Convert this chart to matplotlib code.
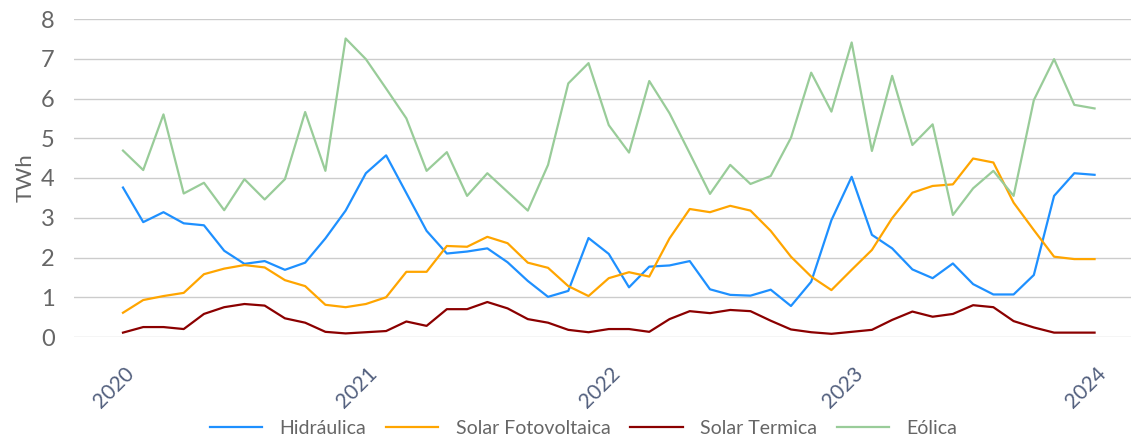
"""Monthly generation by renewable source, 2020-2024 (TWh)."""

import matplotlib
matplotlib.use('Agg')
import matplotlib.pyplot as plt
import matplotlib.transforms as mtransforms
import numpy as np

# monthly values, Jan 2020 .. Jan 2024
hidraulica = [3.76, 2.89, 3.14, 2.86, 2.81, 2.17, 1.84, 1.91, 1.69, 1.87,
              2.48, 3.18, 4.12, 4.57, 3.62, 2.67, 2.10, 2.15, 2.23, 1.88,
              1.41, 1.01, 1.16, 2.49, 2.09, 1.25, 1.77, 1.80, 1.91, 1.20,
              1.06, 1.04, 1.19, 0.78, 1.39, 2.94, 4.03, 2.57, 2.23, 1.70,
              1.48, 1.85, 1.33, 1.07, 1.07, 1.56, 3.55, 4.12, 4.08]
solar_fv = [0.61, 0.93, 1.03, 1.11, 1.58, 1.72, 1.81, 1.75, 1.43, 1.28,
            0.81, 0.75, 0.83, 1.00, 1.64, 1.64, 2.29, 2.27, 2.52, 2.36,
            1.87, 1.74, 1.28, 1.03, 1.48, 1.63, 1.52, 2.48, 3.22, 3.14,
            3.30, 3.18, 2.67, 2.02, 1.52, 1.18, 1.69, 2.19, 2.99, 3.63,
            3.80, 3.84, 4.49, 4.39, 3.38, 2.69, 2.02, 1.96, 1.96]
solar_termica = [0.11, 0.25, 0.25, 0.20, 0.58, 0.75, 0.83, 0.79, 0.47, 0.36,
                 0.13, 0.09, 0.12, 0.15, 0.39, 0.28, 0.70, 0.70, 0.88, 0.72,
                 0.45, 0.36, 0.18, 0.12, 0.20, 0.20, 0.13, 0.45, 0.65, 0.60,
                 0.68, 0.65, 0.41, 0.19, 0.12, 0.08, 0.13, 0.18, 0.43, 0.64,
                 0.51, 0.58, 0.80, 0.75, 0.40, 0.24, 0.11, 0.11, 0.11]
eolica = [4.69, 4.20, 5.60, 3.61, 3.88, 3.19, 3.97, 3.46, 3.97, 5.66,
          4.18, 7.51, 6.99, 6.25, 5.50, 4.18, 4.65, 3.55, 4.12, 3.65,
          3.18, 4.33, 6.38, 6.89, 5.33, 4.64, 6.44, 5.63, 4.62, 3.60,
          4.33, 3.85, 4.05, 5.01, 6.65, 5.67, 7.41, 4.68, 6.57, 4.83,
          5.35, 3.07, 3.74, 4.18, 3.55, 5.96, 6.99, 5.84, 5.75]

series_names = ['Hidráulica', 'Solar Fotovoltaica', 'Solar Termica', 'Eólica']
year_labels = ['2020', '2021', '2022', '2023', '2024']

colors = ['#1e90ff', '#ffa500', '#8b0000', '#99cc99']

plt.rcParams['font.family'] = ['Lato', 'DejaVu Sans']

months = np.arange(len(hidraulica))

fig = plt.figure(figsize=(11.31, 4.41), dpi=100)
ax = fig.add_axes([74 / 1131, 1 - 337 / 441, 1 - 74 / 1131, (337 - 19) / 441])

for vals, name, c in zip([hidraulica, solar_fv, solar_termica, eolica], series_names, colors):
    ax.plot(months, vals, color=c, lw=1.6, label=name, clip_on=False)

ax.set_ylim(0, 8)
ax.set_xlim(-2.42, 49.8)
ax.set_yticks(range(0, 9))
ax.grid(axis='y', color='#cccccc', lw=1.0)
ax.set_axisbelow(True)
for s in ax.spines.values():
    s.set_visible(False)

ax.set_xticks(months[::12])
ax.set_xticklabels(year_labels, rotation=45, ha='center', fontsize=15,
                   color='#53607e')
ax.tick_params(axis='x', length=0, pad=19)
# nudge year labels a little to the left, like the original
shift = mtransforms.ScaledTranslation(-9 / 100, 0, fig.dpi_scale_trans)
for t in ax.get_xticklabels():
    t.set_transform(t.get_transform() + shift)
ax.tick_params(axis='y', length=0, pad=14, labelsize=17, labelcolor='#666666')

ax.set_ylabel('TWh', fontsize=16, color='#666666', labelpad=4)

fig.legend(loc='lower center', bbox_to_anchor=(0.516, -0.03), ncol=4,
           frameon=False, labelcolor='#666666', handlelength=2.7,
           handletextpad=0.9, columnspacing=1.0, prop={'size': 14})

fig.savefig('out.png', dpi=100)
